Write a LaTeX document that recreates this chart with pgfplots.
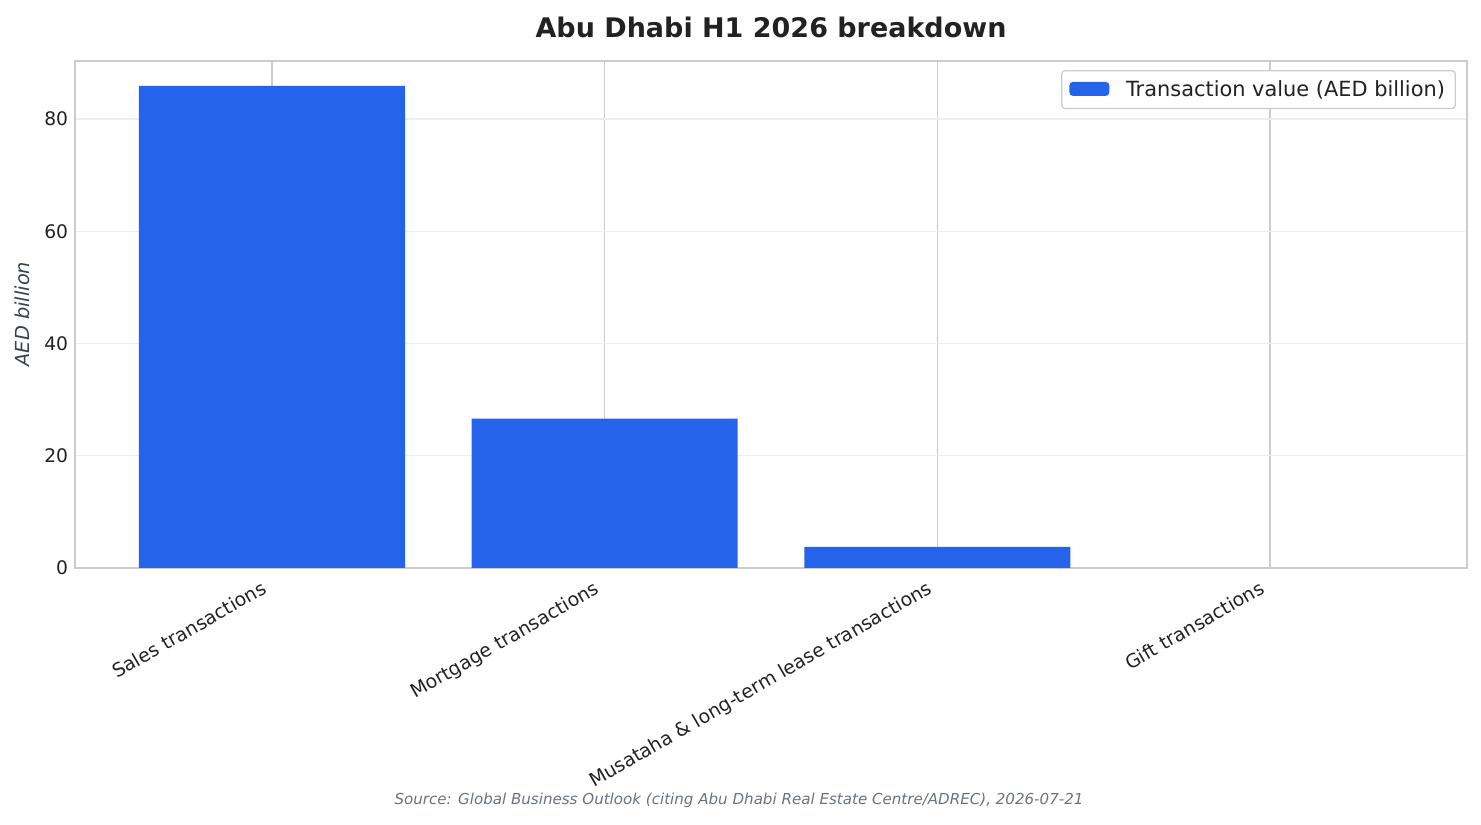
\documentclass[border=0pt]{standalone}
\usepackage{pgfplots}
\pgfplotsset{compat=1.18}
\usepackage{fontspec}
\setmainfont{DejaVu Sans}
\definecolor{barblue}{HTML}{2563EB}
\definecolor{txt}{HTML}{222222}
\definecolor{spine}{HTML}{CCCCCC}
\definecolor{gridv}{HTML}{CCCCCC}
\definecolor{gridh}{HTML}{EEEEEE}
\definecolor{ylab}{HTML}{374151}
\definecolor{src}{HTML}{6B7280}
\begin{document}
\begin{tikzpicture}
\useasboundingbox (0,0) rectangle (1066.32bp,593.28bp);
\begin{axis}[
  at={(54bp,184.32bp)}, anchor=south west,
  width=1002.24bp, height=365.04bp, scale only axis,
  xmin=-0.592, xmax=3.592, ymin=0, ymax=90.33,
  ybar, bar width=0.8,
  xtick={0,1,2,3},
  xticklabels={Sales transactions,Mortgage transactions,Musataha \& long-term lease transactions,Gift transactions},
  x tick label style={xshift=-2.9bp, yshift=-17.3bp, rotate=30, anchor=base east, font=\fontsize{13.7}{16}\selectfont, text=txt, inner sep=0pt},
  ytick={0,20,40,60,80},
  y tick label style={font=\fontsize{13.5}{16}\selectfont, text=txt, xshift=-1.5bp},
  /pgf/number format/assume math mode=true,
  major tick length=0pt,
  axis line style={spine, line width=1pt},
  xmajorgrids, ymajorgrids,
  x grid style={gridv, line width=0.9pt},
  y grid style={gridh, line width=0.9pt},
  legend style={at={(0.9921,0.9822)}, anchor=north east, draw=spine, line width=0.9pt, rounded corners=2.5pt, font=\fontsize{15.1}{18}\selectfont, text=txt, inner xsep=5.5bp, inner ysep=5.2bp, column sep=10bp},
  legend image code/.code={\fill[barblue] (0bp,-4.5bp) rectangle (28.8bp,5.5bp);},
]
\addplot[fill=barblue, draw=none] coordinates {(0,85.9) (1,26.6) (2,3.75) (3,0)};
\addlegendentry{Transaction value (AED billion)}
\end{axis}
\node[font=\fontsize{19.5}{23}\selectfont\bfseries, text=txt] at (555.12bp,573.84bp) {Abu Dhabi H1 2026 breakdown};
\node[rotate=90, font=\fontsize{14}{16}\selectfont\itshape, text=ylab] at (15.84bp,367.2bp) {AED billion};
\node[font=\fontsize{10.9}{13}\selectfont\itshape, text=src] at (532.08bp,17.28bp) {Source: Global Business Outlook (citing Abu Dhabi Real Estate Centre/ADREC), 2026-07-21};
\end{tikzpicture}
\end{document}
